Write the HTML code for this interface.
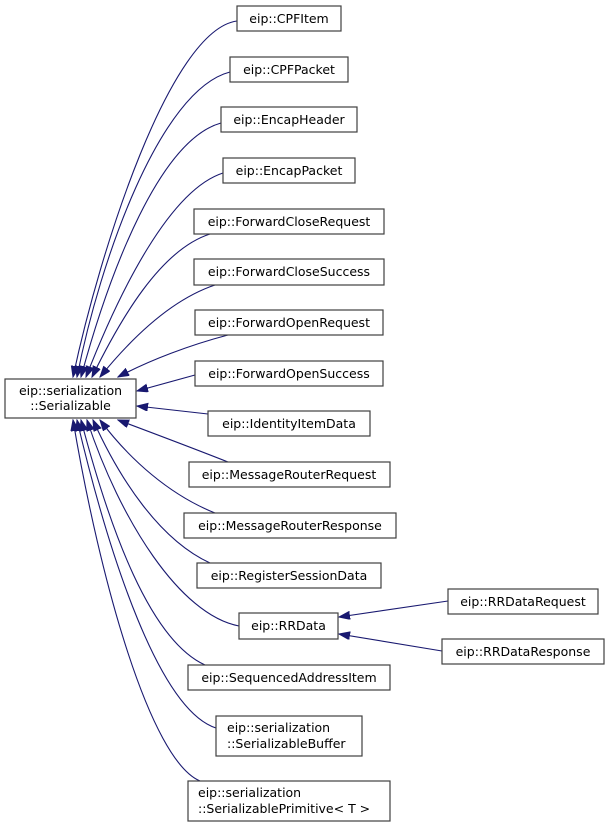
<!DOCTYPE html>
<html><head><meta charset="utf-8"><style>
body{margin:0;background:#fff;}
svg{display:block;}
text{font-family:"DejaVu Sans","Liberation Sans",sans-serif;font-size:12.5px;fill:#000;}
rect{fill:#fff;stroke:#404040;stroke-width:1.2;}
path.e{fill:none;stroke:#191970;stroke-width:1.1;}
</style></head><body>
<svg width="609" height="827" viewBox="0 0 609 827" xmlns="http://www.w3.org/2000/svg">
<defs><marker id="a" markerWidth="12" markerHeight="10" refX="11" refY="4" orient="auto" markerUnits="userSpaceOnUse"><path d="M0,0 L11,4 L0,8 z" fill="#191970" stroke="#191970"/></marker></defs>
<g>
<path class="e" marker-end="url(#a)" d="M237,21 C170,30 100,250 73,377"/>
<path class="e" marker-end="url(#a)" d="M230,72 C160,90 100,260 77,377"/>
<path class="e" marker-end="url(#a)" d="M221,123 C160,140 110,270 81,377"/>
<path class="e" marker-end="url(#a)" d="M223,173 C170,190 120,290 86,377"/>
<path class="e" marker-end="url(#a)" d="M210,234 C160,250 120,320 92,377"/>
<path class="e" marker-end="url(#a)" d="M215,285 C170,300 130,340 100,377"/>
<path class="e" marker-end="url(#a)" d="M228,335 C190,345 150,360 118,377"/>
<path class="e" marker-end="url(#a)" d="M195,375 L137,391"/>
<path class="e" marker-end="url(#a)" d="M208,414 L137,406"/>
<path class="e" marker-end="url(#a)" d="M228,462 C190,447 150,432 118,420"/>
<path class="e" marker-end="url(#a)" d="M215,513 C170,495 130,460 100,420"/>
<path class="e" marker-end="url(#a)" d="M210,563 C160,540 120,480 93,420"/>
<path class="e" marker-end="url(#a)" d="M239,626 C180,615 120,520 87,420"/>
<path class="e" marker-end="url(#a)" d="M205,665 C150,640 110,530 81,420"/>
<path class="e" marker-end="url(#a)" d="M216,728 C160,710 110,560 77,420"/>
<path class="e" marker-end="url(#a)" d="M200,781 C150,760 100,580 73,420"/>
<path class="e" marker-end="url(#a)" d="M448,601 L339,617"/>
<path class="e" marker-end="url(#a)" d="M442,651 L339,634"/>
</g>
<g>
<rect x="5" y="379" width="131" height="39"/><text x="70.5" y="395" text-anchor="middle">eip::serialization</text><text x="70.5" y="410" text-anchor="middle">::Serializable</text>
<rect x="237" y="6" width="104" height="25"/><text x="289" y="23" text-anchor="middle">eip::CPFItem</text>
<rect x="230" y="57" width="118" height="25"/><text x="289" y="74" text-anchor="middle">eip::CPFPacket</text>
<rect x="221" y="107" width="136" height="25"/><text x="289" y="124" text-anchor="middle">eip::EncapHeader</text>
<rect x="223" y="158" width="132" height="25"/><text x="289" y="175" text-anchor="middle">eip::EncapPacket</text>
<rect x="194" y="209" width="190" height="25"/><text x="289" y="226" text-anchor="middle">eip::ForwardCloseRequest</text>
<rect x="194" y="259" width="190" height="26"/><text x="289" y="276" text-anchor="middle">eip::ForwardCloseSuccess</text>
<rect x="195" y="310" width="188" height="25"/><text x="289" y="327" text-anchor="middle">eip::ForwardOpenRequest</text>
<rect x="195" y="361" width="188" height="25"/><text x="289" y="378" text-anchor="middle">eip::ForwardOpenSuccess</text>
<rect x="208" y="411" width="162" height="25"/><text x="289" y="428" text-anchor="middle">eip::IdentityItemData</text>
<rect x="189" y="462" width="201" height="25"/><text x="289" y="479" text-anchor="middle">eip::MessageRouterRequest</text>
<rect x="184" y="513" width="212" height="25"/><text x="290" y="530" text-anchor="middle">eip::MessageRouterResponse</text>
<rect x="197" y="563" width="184" height="25"/><text x="289" y="580" text-anchor="middle">eip::RegisterSessionData</text>
<rect x="239" y="613" width="99" height="26"/><text x="288.5" y="630" text-anchor="middle">eip::RRData</text>
<rect x="448" y="589" width="150" height="25"/><text x="523" y="606" text-anchor="middle">eip::RRDataRequest</text>
<rect x="442" y="639" width="162" height="25"/><text x="523" y="656" text-anchor="middle">eip::RRDataResponse</text>
<rect x="188" y="665" width="202" height="25"/><text x="289" y="682" text-anchor="middle">eip::SequencedAddressItem</text>
<rect x="216" y="716" width="146" height="40"/><text x="227" y="732">eip::serialization</text><text x="227" y="748">::SerializableBuffer</text>
<rect x="188" y="781" width="202" height="40"/><text x="198" y="797">eip::serialization</text><text x="198" y="813">::SerializablePrimitive&lt; T &gt;</text>
</g>
</svg>
</body></html>
